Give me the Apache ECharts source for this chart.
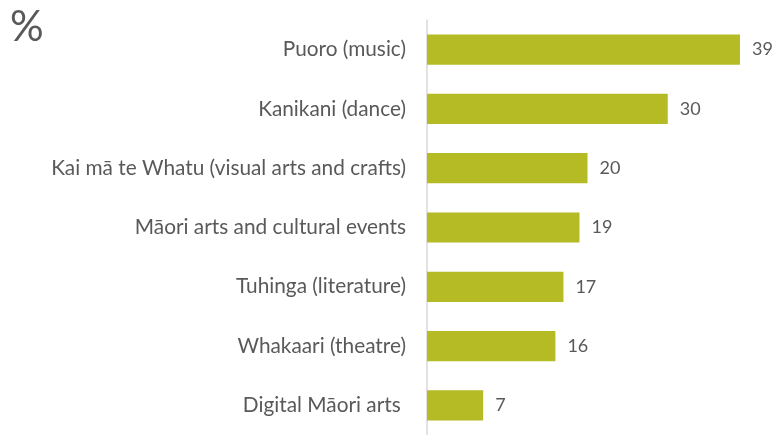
<!DOCTYPE html>
<html>
<head>
<meta charset="utf-8">
<script src="https://cdn.jsdelivr.net/npm/echarts@6/dist/echarts.min.js"></script>
<style>
  html, body { margin: 0; padding: 0; background: #ffffff; }
  #chart { width: 776px; height: 435px; }
</style>
</head>
<body>
<div id="chart"></div>
<script>
// Participation in Māori arts activities, percent
const categories = [
  'Puoro (music)',
  'Kanikani (dance)',
  'Kai mā te Whatu (visual arts and crafts)',
  'Māori arts and cultural events',
  'Tuhinga (literature)',
  'Whakaari (theatre)',
  'Digital Māori arts '
];
const values = [39, 30, 20, 19, 17, 16, 7];
const unitLabel = '%';

const chart = echarts.init(document.getElementById('chart'), null, { renderer: 'canvas' });
const textColor = '#595959';
const fontFamily = 'Lato, Carlito, Calibri, sans-serif';

chart.setOption({
  animation: false,
  backgroundColor: '#ffffff',
  title: {
    text: unitLabel,
    left: 5,
    top: 1,
    textStyle: { color: textColor, fontSize: 42, fontWeight: 'normal', fontFamily: fontFamily }
  },
  grid: { left: 427, right: 28, top: 20, bottom: -7, containLabel: false },
  xAxis: {
    type: 'value',
    min: 0,
    max: 40,
    show: false
  },
  yAxis: {
    type: 'category',
    data: categories,
    inverse: true,
    axisLine: { show: true, lineStyle: { color: '#d9d9d9', width: 1.5 } },
    axisTick: { show: false },
    splitLine: { show: false },
    axisLabel: {
      color: textColor,
      fontSize: 20.8,
      fontFamily: fontFamily,
      margin: 21
    }
  },
  series: [{
    type: 'bar',
    data: values,
    barCategoryGap: '49%',
    itemStyle: { color: '#b5bb25' },
    label: {
      show: true,
      position: 'right',
      distance: 12,
      color: textColor,
      fontSize: 18,
      fontFamily: fontFamily
    }
  }]
});
</script>
</body>
</html>
